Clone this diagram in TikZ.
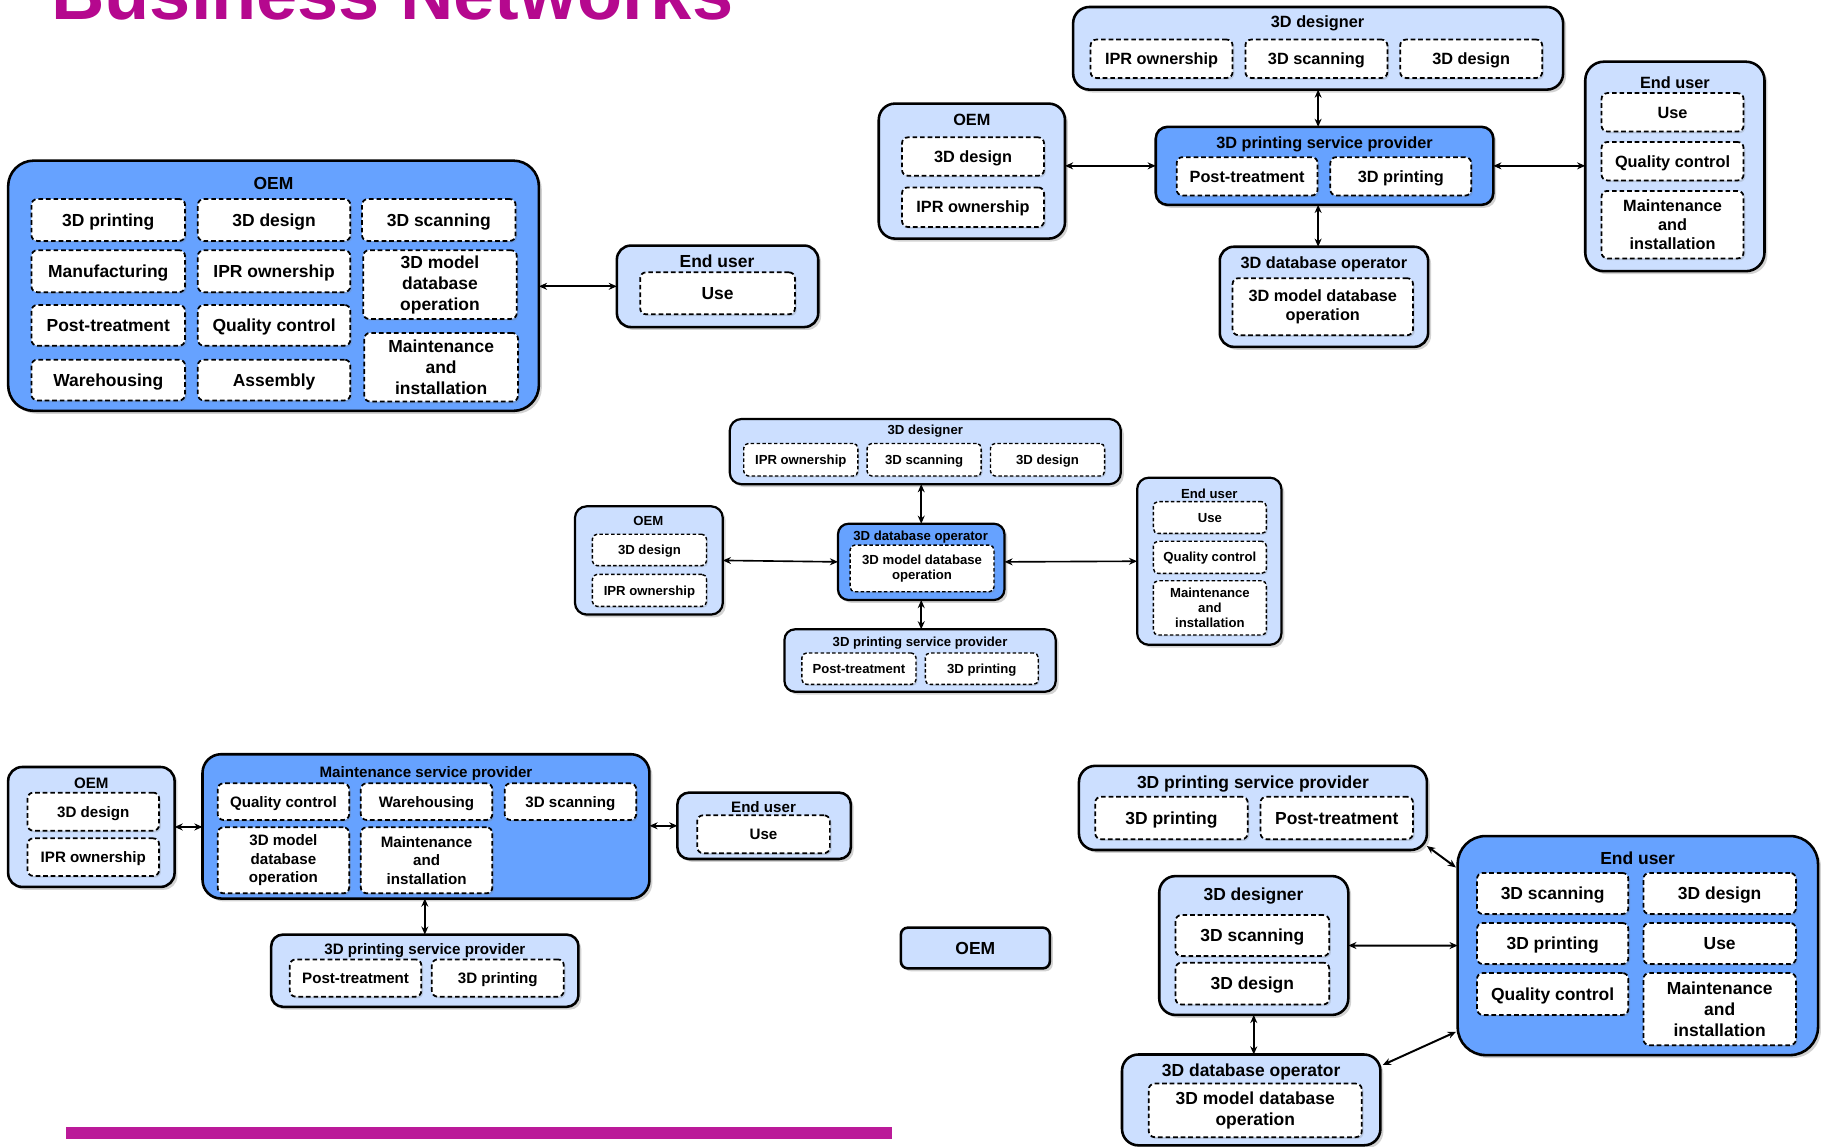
\documentclass[tikz,border=0pt]{standalone}
\usepackage{fontspec}
\setmainfont{Liberation Sans}
\usetikzlibrary{shadows,arrows.meta,calc}
\definecolor{dkb}{HTML}{66A2FF}
\definecolor{ltb}{HTML}{CCDFFF}
\definecolor{magT}{HTML}{B5088E}
\definecolor{magB}{HTML}{BB1A99}
\newcommand\fsz[2]{\fontsize{#1}{#2}\selectfont\bfseries}
\newcommand\rbox[8][]{\node[#3,#1,minimum width={(#6)-(#4)},minimum height={(#7)-(#5)}] (#2) at ({((#4)+(#6))/2},{((#5)+(#7))/2}) {#8};}
\begin{document}
\begin{tikzpicture}[x=1pt,y=-1pt,
  base/.style={inner sep=0pt,outer sep=0pt,align=center},
  dk/.style={base,draw=black,line width=2.2pt,fill=dkb,drop shadow={shadow xshift=2.5pt,shadow yshift=-2.5pt,opacity=.35}},
  lt/.style={base,draw=black,line width=2.2pt,fill=ltb,drop shadow={shadow xshift=2.5pt,shadow yshift=-2.5pt,opacity=.35}},
  ib/.style={base,draw=black,line width=1.5pt,dash pattern=on 4pt off 2.5pt,fill=white,rounded corners=5pt,drop shadow={shadow xshift=1.5pt,shadow yshift=-1.5pt,opacity=.25}},
  ibs/.style={base,draw=black,line width=1.2pt,dash pattern=on 3pt off 2pt,fill=white,rounded corners=4pt,drop shadow={shadow xshift=1.2pt,shadow yshift=-1.2pt,opacity=.25}},
  fA/.style={font=\fsz{15}{18},text height=10.8pt,text depth=0pt},
  fAm/.style={font=\fsz{15}{18}},
  fB/.style={font=\fsz{14}{16.5},text height=10pt,text depth=0pt},
  fBm/.style={font=\fsz{14}{16.5}},
  fC/.style={font=\fsz{11.3}{13},text height=8.1pt,text depth=0pt},
  fCm/.style={font=\fsz{11.3}{13}},
  fD/.style={font=\fsz{13}{16},text height=9.3pt,text depth=0pt},
  fDm/.style={font=\fsz{13}{16}},
  arr/.style={<->,>={Stealth[length=7pt,width=6pt]},line width=1.7pt}]
\useasboundingbox (0,0) rectangle (1568,985);
\clip (0,0) rectangle (1568,985);
\fill[white] (0,0) rectangle (1568,985);
% title and bar
\node[anchor=base west,inner sep=0pt,font=\fontsize{63.5}{70}\selectfont\bfseries,text=magT] (title) at (44,17) {Business Networks};
\fill[magB] (57,968) rectangle (766,979);

% ---------- Panel 1 ----------
\rbox[rounded corners=22pt]{p1oem}{dk}{7}{138}{463}{353}{}
\node[base,fA] (p1oemT) at (235,157.5) {OEM};
\rbox{p1a}{ib,fA}{27}{171}{159}{207}{3D printing}
\rbox{p1b}{ib,fA}{170}{171}{301}{207}{3D design}
\rbox{p1c}{ib,fA}{311}{171}{443}{207}{3D scanning}
\rbox{p1d}{ib,fA}{27}{215}{159}{251}{Manufacturing}
\rbox{p1e}{ib,fA}{170}{215}{301}{251}{IPR ownership}
\rbox{p1f}{ib,fAm}{312}{215}{444}{274}{3D model\\database\\operation}
\rbox{p1g}{ib,fA}{27}{262}{159}{297}{Post-treatment}
\rbox{p1h}{ib,fA}{170}{262}{301}{297}{Quality control}
\rbox{p1i}{ib,fAm}{313}{286}{445}{345}{Maintenance\\and\\installation}
\rbox{p1j}{ib,fA}{27}{309}{159}{344}{Warehousing}
\rbox{p1k}{ib,fA}{170}{309}{301}{344}{Assembly}
\rbox[rounded corners=12pt]{p1eu}{lt}{530}{211}{703}{281}{}
\node[base,fA] (p1euT) at (616,224) {End user};
\rbox{p1eua}{ib,fA}{550}{234}{683}{270}{Use}
\draw[arr] (p1oem.east|-p1eu.west) -- (p1eu.west);

% ---------- Panel 2 ----------
\rbox[rounded corners=14pt]{p2des}{lt}{922}{6}{1343}{77}{}
\node[base,fB] (p2desT) at (1132,18.6) {3D designer};
\rbox{p2desa}{ib,fB}{937}{34}{1059}{67}{IPR ownership}
\rbox{p2desb}{ib,fB}{1070}{34}{1192}{67}{3D scanning}
\rbox{p2desc}{ib,fB}{1203}{34}{1325}{67}{3D design}
\rbox[rounded corners=14pt]{p2oem}{lt}{755}{89}{915}{205}{}
\node[base,fB] (p2oemT) at (835,103) {OEM};
\rbox{p2oema}{ib,fB}{775}{118}{897}{151}{3D design}
\rbox{p2oemb}{ib,fB}{775}{161}{897}{195}{IPR ownership}
\rbox[rounded corners=10pt]{p2psp}{dk}{993}{109}{1283}{176}{}
\node[base,fB] (p2pspT) at (1138,122.6) {3D printing service provider};
\rbox{p2pspa}{ib,fB}{1011}{135}{1132}{168}{Post-treatment}
\rbox{p2pspb}{ib,fB}{1143}{135}{1264}{168}{3D printing}
\rbox[rounded corners=12pt]{p2db}{lt}{1048}{212}{1227}{298}{}
\node[base,fB] (p2dbT) at (1137.5,226) {3D database operator};
\rbox{p2dba}{ib,fBm}{1059}{239}{1214}{288}{3D model database\\operation}
\rbox[rounded corners=16pt]{p2eu}{lt}{1362}{53}{1516}{233}{}
\node[base,fB] (p2euT) at (1439,70.7) {End user};
\rbox{p2eua}{ib,fB}{1376}{80}{1498}{113}{Use}
\rbox{p2eub}{ib,fB}{1376}{122}{1498}{155}{Quality control}
\rbox{p2euc}{ib,fBm}{1376}{164}{1498}{222}{Maintenance\\and\\installation}
\draw[arr] (p2oem.east|-p2psp.west) -- (p2psp.west);
\draw[arr] (p2psp.east) -- (p2psp.east-|p2eu.west);
\draw[arr] (p2des.south) -- (p2des.south|-p2psp.north);
\draw[arr] (p2des.south|-p2psp.south) -- (p2des.south|-p2db.north);

% ---------- Panel 3 ----------
\rbox[rounded corners=10pt]{p3des}{lt,line width=1.9pt}{627}{360}{963}{416}{}
\node[base,fC] (p3desT) at (795,369.5) {3D designer};
\rbox{p3desa}{ibs,fC}{639}{381}{737}{409}{IPR ownership}
\rbox{p3desb}{ibs,fC}{745}{381}{843}{409}{3D scanning}
\rbox{p3desc}{ibs,fC}{851}{381}{949}{409}{3D design}
\rbox[rounded corners=10pt]{p3oem}{lt,line width=1.9pt}{494}{435}{621}{528}{}
\node[base,fC] (p3oemT) at (557,447.4) {OEM};
\rbox{p3oema}{ibs,fC}{509}{459}{607}{486}{3D design}
\rbox{p3oemb}{ibs,fC}{509}{493.5}{607}{521}{IPR ownership}
\rbox[rounded corners=9pt]{p3db}{dk,line width=1.9pt}{720}{450}{863}{515.5}{}
\node[base,fC] (p3dbT) at (791,460.3) {3D database operator};
\rbox{p3dba}{ibs,fCm}{730.4}{468.3}{854}{508.4}{3D model database\\operation}
\rbox[rounded corners=10pt]{p3eu}{lt,line width=1.9pt}{977}{410.4}{1101}{554}{}
\node[base,fC] (p3euT) at (1039,423.9) {End user};
\rbox{p3eua}{ibs,fC}{991}{431}{1088}{458.3}{Use}
\rbox{p3eub}{ibs,fC}{991}{465}{1088}{492.6}{Quality control}
\rbox{p3euc}{ibs,fCm}{991}{499}{1088}{545.6}{Maintenance\\and\\installation}
\rbox[rounded corners=9pt]{p3psp}{lt,line width=1.9pt}{674}{540.7}{907}{594.3}{}
\node[base,fC] (p3pspT) at (790.5,551.3) {3D printing service provider};
\rbox{p3pspa}{ibs,fC}{689}{561}{787}{588}{Post-treatment}
\rbox{p3pspb}{ibs,fC}{795}{561}{892}{588}{3D printing}
\draw[arr,line width=1.4pt] (p3oem.east) -- (p3db.west);
\draw[arr,line width=1.4pt] (p3db.east) -- (p3eu.west);
\draw[arr,line width=1.4pt] (p3db.north) -- (p3db.north|-p3des.south);
\draw[arr,line width=1.4pt] (p3db.south) -- (p3db.south|-p3psp.north);

% ---------- Panel 4 ----------
\rbox[rounded corners=12pt]{p4oem}{lt}{7}{659}{150}{762}{}
\node[base,fD] (p4oemT) at (78.5,672.5) {OEM};
\rbox{p4oema}{ib,fD}{23.6}{681}{136.7}{713.7}{3D design}
\rbox{p4oemb}{ib,fD}{23.6}{720.3}{136.7}{752.6}{IPR ownership}
\rbox[rounded corners=16pt]{p4msp}{dk}{174}{648}{558}{772}{}
\node[base,fD] (p4mspT) at (366,663) {Maintenance service provider};
\rbox{p4mspa}{ib,fD}{187}{673}{300}{704.5}{Quality control}
\rbox{p4mspb}{ib,fD}{310}{673}{423}{704.5}{Warehousing}
\rbox{p4mspc}{ib,fD}{433.6}{673}{546.6}{704.5}{3D scanning}
\rbox{p4mspd}{ib,fDm}{187}{710.8}{300}{767.5}{3D model\\database\\operation}
\rbox{p4mspe}{ib,fDm}{310}{710.8}{423}{767.5}{Maintenance\\and\\installation}
\rbox[rounded corners=10pt]{p4eu}{lt}{582}{681}{731}{738}{}
\node[base,fD] (p4euT) at (656,693.7) {End user};
\rbox{p4eua}{ib,fD}{599}{700.5}{713}{733}{Use}
\rbox[rounded corners=10pt]{p4psp}{lt}{233}{803}{497}{865}{}
\node[base,fD] (p4pspT) at (365,815.4) {3D printing service provider};
\rbox{p4pspa}{ib,fD}{249}{824.3}{362}{856.3}{Post-treatment}
\rbox{p4pspb}{ib,fD}{371}{824.3}{484.4}{856.3}{3D printing}
\draw[arr] (p4oem.east) -- (p4oem.east-|p4msp.west);
\draw[arr] (p4msp.east|-p4eu.west) -- (p4eu.west);
\draw[arr] (p4msp.south-|p4psp.north) -- (p4psp.north);

% ---------- Panel 5 ----------
\rbox[rounded corners=6pt]{p5oem}{lt,fA}{774}{797}{902}{832}{OEM}
\rbox[rounded corners=14pt]{p5psp}{lt}{927}{658}{1226}{730.3}{}
\node[base,fA] (p5pspT) at (1076.5,672.2) {3D printing service provider};
\rbox{p5pspa}{ib,fA}{941}{684.5}{1072}{721}{3D printing}
\rbox{p5pspb}{ib,fA}{1083}{684.5}{1214}{721}{Post-treatment}
\rbox[rounded corners=24pt]{p5eu}{dk}{1252.4}{718.3}{1562}{906.5}{}
\node[base,fA] (p5euT) at (1407,737.5) {End user};
\rbox{p5eua}{ib,fA}{1269}{750}{1399}{785.3}{3D scanning}
\rbox{p5eub}{ib,fA}{1412}{750}{1543}{785.3}{3D design}
\rbox{p5euc}{ib,fA}{1269}{793}{1399}{828.3}{3D printing}
\rbox{p5eud}{ib,fA}{1412}{793}{1543}{828.3}{Use}
\rbox{p5eue}{ib,fA}{1269}{836}{1399}{872}{Quality control}
\rbox{p5euf}{ib,fAm}{1412}{836}{1543}{898}{Maintenance\\and\\installation}
\rbox[rounded corners=14pt]{p5des}{lt}{996}{752.7}{1158.4}{872}{}
\node[base,fA] (p5desT) at (1077,768) {3D designer};
\rbox{p5desa}{ib,fA}{1010}{786.2}{1142}{821.4}{3D scanning}
\rbox{p5desb}{ib,fA}{1010}{827.1}{1142}{863}{3D design}
\rbox[rounded corners=14pt]{p5db}{lt}{964}{906}{1186}{984}{}
\node[base,fA] (p5dbT) at (1075,919.3) {3D database operator};
\rbox{p5dba}{ib,fAm}{987}{931}{1170}{977}{3D model database\\operation}
\draw[arr] ($(p5psp.south east)+(0,-3.4)$) -- ($(p5eu.north west)+(-1.5,27)$);
\draw[arr] (p5des.east) -- (p5eu.west);
\draw[arr] (p5des.south) -- (p5des.south|-p5db.north);
\draw[arr] ($(p5db.north east)+(2,9)$) -- ($(p5eu.south west)+(-1.5,-20)$);
\end{tikzpicture}
\end{document}
